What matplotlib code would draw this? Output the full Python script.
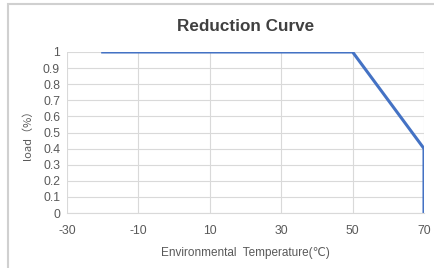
import matplotlib
matplotlib.use("Agg")
import matplotlib.pyplot as plt
from matplotlib.patches import Rectangle

temperature = [-20, 50, 70, 70]
load = [1.0, 1.0, 0.4, 0.0]
x_ticks = [-30, -10, 10, 30, 50, 70]
y_ticks = [0, 0.1, 0.2, 0.3, 0.4, 0.5, 0.6, 0.7, 0.8, 0.9, 1]

plt.rcParams["font.family"] = ["Liberation Sans", "DejaVu Sans"]
plt.rcParams["axes.unicode_minus"] = False

fig = plt.figure(figsize=(4.35, 2.68), dpi=100)
fig.patches.append(Rectangle((8 / 435, -0.1), 1.2, 1.1 - 4 / 268,
                             transform=fig.transFigure, fill=False,
                             edgecolor="#D0D0D0", linewidth=1.5))

ax = fig.add_axes([67 / 435, 1 - 213 / 268, 357 / 435, 161 / 268])
ax.plot(temperature, load, color="#4472C4", linewidth=2.2, solid_joinstyle="miter")

ax.set_xlim(-30, 70)
ax.set_ylim(0, 1)
ax.set_xticks(x_ticks)
ax.set_xticklabels([str(v) for v in x_ticks])
ax.set_yticks(y_ticks)
ax.set_yticklabels([f"{v:g}" for v in y_ticks])
ax.grid(True, color="#D9D9D9", linewidth=0.8)
ax.set_axisbelow(True)
for side in ("left", "right", "top"):
    ax.spines[side].set_visible(False)
ax.spines["bottom"].set_color("#D9D9D9")
ax.tick_params(length=0, labelsize=8.8, colors="#595959")
ax.tick_params(axis="x", pad=9)
ax.tick_params(axis="y", pad=5)

ax.set_title("Reduction Curve", fontsize=12.3, fontweight="bold", color="#404040", pad=15)
ax.set_xlabel("Environmental  Temperature(℃)", fontsize=8.5, color="#595959", labelpad=7)
ax.set_ylabel("load（%）", fontsize=8, color="#595959", labelpad=7,
              family=["Noto Sans CJK SC", "DejaVu Sans"])

fig.savefig("out.png", dpi=100)
